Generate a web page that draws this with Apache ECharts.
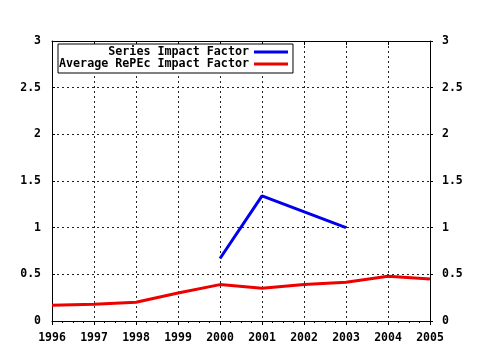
<!DOCTYPE html>
<html><head><meta charset="utf-8">
<script src="https://cdn.jsdelivr.net/npm/echarts@6/dist/echarts.min.js"></script>
<style>html,body{margin:0;padding:0;background:#fff}#c{width:480px;height:350px}</style>
</head><body><div id="c"></div>
<script>
const years = [1996, 1997, 1998, 1999, 2000, 2001, 2002, 2003, 2004, 2005];
const seriesImpact = [null, null, null, null, 0.67, 1.34, null, 1.0, null, null];
const avgRepec = [0.17, 0.18, 0.20, 0.30, 0.39, 0.35, 0.39, 0.415, 0.48, 0.45];
const names = ['Series Impact Factor', 'Average RePEc Impact Factor'];

const FONT = 'DejaVu Sans Mono';
const lab = {fontFamily: FONT, fontWeight: 'bold', fontSize: 11.5, color: '#000'};
const dotted = {show: true, lineStyle: {color: '#222', type: [2, 3], width: 1}};

function pairs(vals) {
  const out = [];
  years.forEach((y, i) => { if (vals[i] !== null) out.push([y, vals[i]]); });
  return out;
}
const maxLen = Math.max(...names.map(n => n.length));

const chart = echarts.init(document.getElementById('c'), null, {renderer: 'canvas'});
chart.setOption({
  animation: false,
  backgroundColor: '#fff',
  grid: {left: 52, right: 50, top: 41, bottom: 29},
  legend: {
    left: 58, top: 44, orient: 'vertical', align: 'right',
    backgroundColor: '#fff',
    borderColor: '#000', borderWidth: 1, padding: [2, 5, 3, 1],
    itemGap: 0, itemWidth: 34, itemHeight: 3, icon: 'rect',
    textStyle: Object.assign({}, lab, {fontSize: 11.7, lineHeight: 12, padding: [0, 0, 0, 0]}),
    formatter: n => n.padStart(maxLen, '\u00a0'),
    data: names
  },
  xAxis: [{
    type: 'value', min: 1996, max: 2005, interval: 1, position: 'bottom',
    axisLine: {show: true, onZero: false, lineStyle: {color: '#000', width: 1}},
    axisTick: {show: true, inside: false, length: 4, lineStyle: {color: '#000'}},
    minorTick: {show: true, splitNumber: 4, length: 2, lineStyle: {color: '#000'}},
    axisLabel: Object.assign({}, lab, {margin: 11, formatter: v => String(v)}),
    splitLine: dotted
  }, {
    type: 'value', min: 1996, max: 2005, interval: 1, position: 'top',
    axisLine: {show: true, onZero: false, lineStyle: {color: '#000', width: 1}},
    axisTick: {show: true, inside: true, length: 4, lineStyle: {color: '#000'}},
    minorTick: {show: false},
    axisLabel: {show: false}, splitLine: {show: false}
  }],
  yAxis: [{
    type: 'value', min: 0, max: 3, interval: 0.5, position: 'left',
    axisLine: {show: true, onZero: false, lineStyle: {color: '#000', width: 1}},
    axisTick: {show: true, inside: true, length: 3, lineStyle: {color: '#000'}},
    axisLabel: Object.assign({}, lab, {margin: 11}),
    splitLine: dotted
  }, {
    type: 'value', min: 0, max: 3, interval: 0.5, position: 'right',
    axisLine: {show: true, onZero: false, lineStyle: {color: '#000', width: 1}},
    axisTick: {show: true, inside: false, length: 3, lineStyle: {color: '#000'}},
    axisLabel: Object.assign({}, lab, {margin: 12}),
    splitLine: {show: false}
  }],
  series: [{
    name: names[0], type: 'line', data: pairs(seriesImpact), symbol: 'none',
    color: '#0000ee', lineStyle: {width: 3, color: '#0000ee'}
  }, {
    name: names[1], type: 'line', data: pairs(avgRepec), symbol: 'none',
    color: '#ee0000', lineStyle: {width: 3, color: '#ee0000'}
  }]
});
</script></body></html>
